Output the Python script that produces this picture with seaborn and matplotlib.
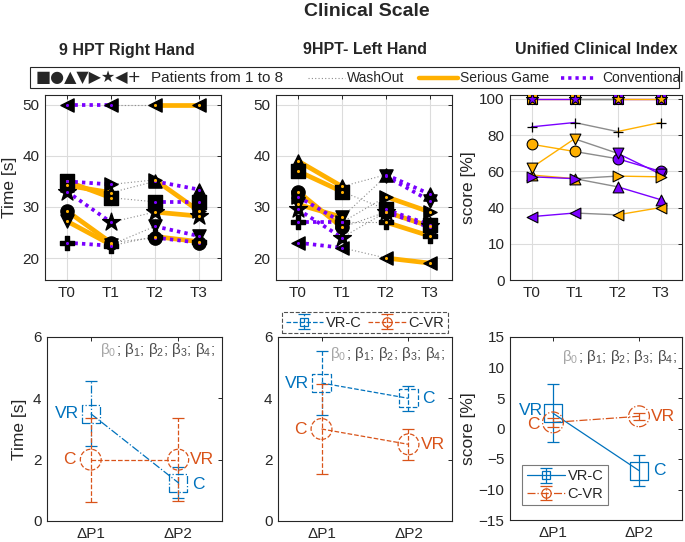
import matplotlib
matplotlib.use("Agg")
import matplotlib.pyplot as plt
import seaborn as sns
from matplotlib.patches import Rectangle
from matplotlib.lines import Line2D

sns.set_theme(style="white")
plt.rcParams['font.family'] = ['Liberation Sans', 'DejaVu Sans']
plt.rcParams['mathtext.fontset'] = 'custom'
plt.rcParams['mathtext.rm'] = 'Liberation Sans'
plt.rcParams['mathtext.it'] = 'Liberation Sans'

# ---------------- data ----------------
times = ['T0', 'T1', 'T2', 'T3']
patient_markers = ['s', 'o', '^', 'v', '>', '*', '<', 'P']
serious_game_first = [True, True, True, True, False, False, False, False]

# 9 HPT right hand (patients 1..8)
rh_t0 = [35.0, 29.2, 34.2, 27.2, 35.0, 33.0, 50.0, 23.0]
rh_t1 = [31.8, 23.0, 32.8, 22.6, 34.4, 27.0, 50.0, 22.4]
rh_t2 = [31.0, 24.0, 35.0, 26.2, 35.3, 29.0, 50.0, 24.2]
rh_t3 = [31.0, 23.0, 33.4, 24.3, 29.2, 28.2, 50.0, 23.2]

# 9 HPT left hand
lh_t0 = [37.0, 33.0, 39.0, 30.5, 32.0, 29.5, 23.0, 27.0]
lh_t1 = [33.0, 26.0, 34.0, 28.0, 27.0, 24.0, 22.0, 27.0]
lh_t2 = [29.5, 29.0, 36.3, 36.0, 32.0, 29.0, 20.0, 27.0]
lh_t3 = [26.5, 26.0, 32.5, 31.2, 29.0, 26.2, 19.0, 24.3]

# Unified clinical index
uci_t0 = [100, 75.0, 58.0, 62.0, 57.0, 100, 35.0, 84.6]
uci_t1 = [100, 71.0, 56.0, 78.0, 56.0, 100, 37.0, 87.0]
uci_t2 = [100, 67.0, 51.5, 70.0, 57.4, 100, 36.0, 82.0]
uci_t3 = [100, 60.0, 44.4, 58.5, 57.0, 100, 40.0, 87.0]
uci_ticks = [0, 20, 40, 60, 80, 100]
uci_ticklabels = ['0', '10', '40', '60', '80', '100']

# bottom row: group means and errors at dP1, dP2
delta_labels = ['\u0394P1', '\u0394P2']
rh_vrc = [3.5, 1.25]
rh_vrc_err = [1.05, 0.5]
rh_cvr = [2.0, 2.0]
rh_cvr_err = [1.37, 1.35]

lh_vrc = [4.5, 4.0]
lh_vrc_err = [1.03, 0.4]
lh_cvr = [3.0, 2.5]
lh_cvr_err = [1.48, 0.5]

uci_vrc = [2.5, -6.9]
uci_vrc_err = [4.75, 2.5]
uci_cvr = [1.0, 2.0]
uci_cvr_err = [0.7, 0.6]

SG = '#FFB000'
CONV = '#7A00FF'
WASH = '#8c8c8c'
BLUE = '#0072BD'
ORNG = '#D95319'

W, H = 685, 542
fig = plt.figure(figsize=(W / 100, H / 100), dpi=100)


def ax_px(x0, y0, x1, y1):
    return fig.add_axes([x0 / W, 1 - y1 / H, (x1 - x0) / W, (y1 - y0) / H])


def style_axes(ax, grid):
    for s in ax.spines.values():
        s.set_color('#262626')
        s.set_linewidth(0.8)
        s.set_visible(True)
    ax.tick_params(direction='in', top=True, right=True, length=3, width=0.7,
                   labelsize=11, colors='#262626', pad=4)
    if grid:
        ax.grid(True, color='#dcdcdc', lw=0.8)
        ax.set_axisbelow(True)


def draw_top(ax, vals, thin=False):
    xs = [0, 1, 2, 3]
    for i in range(8):
        y = [v[i] for v in vals]
        c1, c2 = (SG, CONV) if serious_game_first[i] else (CONV, SG)
        if thin:
            sns.lineplot(x=[1, 2], y=[y[1], y[2]], ax=ax, color=WASH, lw=1.0, legend=False, zorder=2)
            for (a, b), c in (((0, 1), c1), ((2, 3), c2)):
                sns.lineplot(x=[a, b], y=[y[a], y[b]], ax=ax, color=c, lw=1.0, legend=False, zorder=2)
        else:
            sns.lineplot(x=[1, 2], y=[y[1], y[2]], ax=ax, color=WASH, lw=0.8,
                         linestyle=(0, (1, 2)), legend=False, zorder=2)
            for (a, b), c in (((0, 1), c1), ((2, 3), c2)):
                if c == SG:
                    sns.lineplot(x=[a, b], y=[y[a], y[b]], ax=ax, color=SG, lw=3.4,
                                 legend=False, zorder=2)
                else:
                    sns.lineplot(x=[a, b], y=[y[a], y[b]], ax=ax, color=CONV, lw=2.7,
                                 linestyle=(0, (0.9, 1.1)), legend=False, zorder=2.1)
    for i in range(8):
        y = [v[i] for v in vals]
        m = patient_markers[i]
        c1, c2 = (SG, CONV) if serious_game_first[i] else (CONV, SG)
        cols = [c1, c1, c2, c2]
        if thin:
            if m == 'P':
                sns.scatterplot(x=xs, y=y, ax=ax, marker='+', s=45, color='black',
                                linewidth=0.9, legend=False, zorder=4)
            else:
                sz = 85 if m == '*' else 60
                for x, yy, c in zip(xs, y, cols):
                    ax.scatter([x], [yy], marker=m, s=sz, facecolor=c, edgecolor='black',
                               linewidth=0.8, zorder=4)
        else:
            sz = 180 if m == '*' else 90
            sns.scatterplot(x=xs, y=y, ax=ax, marker=m, s=sz, color='black',
                            edgecolor='black', linewidth=1.0, legend=False, zorder=4)
            for x, yy, c in zip(xs, y, cols):
                ax.scatter([x], [yy], marker='o', s=5, color=c, linewidth=0, zorder=5)
    ax.set_xlim(-0.5, 3.5)
    ax.set_xticks(xs)
    ax.set_xticklabels(times)
    ax.set_xlabel('')
    ax.set_ylabel('')


# ---------- top row ----------
ax1 = ax_px(45, 95, 221, 280)
draw_top(ax1, [rh_t0, rh_t1, rh_t2, rh_t3])
ax1.set_ylim(15.7, 51.9)
ax1.set_yticks([20, 30, 40, 50])
ax1.set_ylabel('Time [s]', fontsize=12.5, labelpad=4)
style_axes(ax1, True)

ax2 = ax_px(276, 95, 452, 280)
draw_top(ax2, [lh_t0, lh_t1, lh_t2, lh_t3])
ax2.set_ylim(15.7, 51.9)
ax2.set_yticks([20, 30, 40, 50])
style_axes(ax2, True)

ax3 = ax_px(510, 95, 682, 280)
draw_top(ax3, [uci_t0, uci_t1, uci_t2, uci_t3], thin=True)
ax3.set_ylim(0, 102.2)
ax3.set_yticks(uci_ticks)
ax3.set_yticklabels(uci_ticklabels)
ax3.set_ylabel('score [%]', fontsize=12.5, labelpad=2)
style_axes(ax3, True)


# ---------- bottom row ----------
def draw_bottom(ax, vrc, vrc_err, cvr, cvr_err, ls_v, ls_c):
    xs = [1, 2]
    ebs = []
    for y, e, c, ls, m, ms, lab in ((vrc, vrc_err, BLUE, ls_v, 's', 13, 'VR-C'),
                                     (cvr, cvr_err, ORNG, ls_c, 'o', 15, 'C-VR')):
        eb = ax.errorbar(xs, y, yerr=e, color=c, ls=ls, lw=0.9, marker=m, ms=ms,
                         mfc='none', mec=c, mew=0.9, capsize=4, capthick=0.9,
                         elinewidth=0.9, label=lab, zorder=3)
        eb[2][0].set_linestyle(ls)
        ebs.append((eb, y, c, ls, m, ms))
    ax.set_xlim(0.5, 2.5)
    ax.set_xticks(xs)
    ax.set_xticklabels(delta_labels)
    style_axes(ax, False)
    return ebs


def finish_markers(ax, ebs):
    for eb, y, c, ls, m, ms in ebs:
        eb[0].set_marker('None')
        sns.scatterplot(x=[1, 2], y=y, ax=ax, marker=m, s=(ms * 1.0) ** 2,
                        facecolor='none', edgecolor=c, linewidth=0.9,
                        linestyle=ls, legend=False, zorder=4)


def label(ax, x, y, txt, c, dx):
    ax.annotate(txt, xy=(x, y), xytext=(dx, 0), textcoords='offset pixels',
                ha='right' if dx < 0 else 'left', va='center', color=c, fontsize=12.5)


def betas(ax, x, y):
    t = ax.text(x, y, r'$\beta_0$', transform=ax.transAxes, color='#a6a6a6',
                fontsize=11, va='center', ha='left')
    ax.annotate(r'; $\beta_1$; $\beta_2$; $\beta_3$; $\beta_4$;', xy=(1, 0), xycoords=t,
                va='bottom', ha='left', color='#4d4d4d', fontsize=11)


b1 = ax_px(47, 337, 222, 521)
e1 = draw_bottom(b1, rh_vrc, rh_vrc_err, rh_cvr, rh_cvr_err, '-.', '--')
b1.set_ylim(0, 6)
b1.set_yticks([0, 2, 4, 6])
b1.set_ylabel('Time [s]', fontsize=12.5, labelpad=4)
finish_markers(b1, e1)
label(b1, 1, rh_vrc[0], 'VR', BLUE, -12)
label(b1, 2, rh_vrc[1] - 0.05, 'C', BLUE, 14)
label(b1, 1, rh_cvr[0], 'C', ORNG, -15)
label(b1, 2, rh_cvr[1], 'VR', ORNG, 12)
betas(b1, 0.30, 0.93)

b2 = ax_px(278, 337, 452, 521)
e2 = draw_bottom(b2, lh_vrc, lh_vrc_err, lh_cvr, lh_cvr_err, '--', '--')
b2.set_ylim(0, 6)
b2.set_yticks([0, 2, 4, 6])
leg2 = b2.legend(loc='lower center', bbox_to_anchor=(0.5, 1.02), ncol=2, fontsize=10.5,
                 frameon=True, fancybox=False, markerscale=0.45, handlelength=2.6,
                 handletextpad=0.2, columnspacing=0.4, borderpad=0.25, borderaxespad=0)
leg2.get_frame().set_edgecolor('#262626')
leg2.get_frame().set_linestyle('--')
leg2.get_frame().set_linewidth(0.8)
finish_markers(b2, e2)
label(b2, 1, lh_vrc[0], 'VR', BLUE, -12)
label(b2, 2, lh_vrc[1], 'C', BLUE, 14)
label(b2, 1, lh_cvr[0], 'C', ORNG, -15)
label(b2, 2, lh_cvr[1], 'VR', ORNG, 12)
betas(b2, 0.30, 0.91)

b3 = ax_px(510, 337, 682, 520)
e3 = draw_bottom(b3, uci_vrc, uci_vrc_err, uci_cvr, uci_cvr_err, '-', '-.')
b3.set_ylim(-15, 15)
b3.set_yticks([-15, -10, -5, 0, 5, 10, 15])
b3.set_ylabel('score [%]', fontsize=12.5, labelpad=2)
leg3 = b3.legend(loc='lower left', bbox_to_anchor=(0.03, 0.04), ncol=1, fontsize=10.5,
                 frameon=True, fancybox=False, markerscale=0.45, handlelength=2.6,
                 handletextpad=0.2, borderpad=0.3, labelspacing=0.25)
leg3.get_frame().set_edgecolor('#595959')
leg3.get_frame().set_linewidth(0.8)
finish_markers(b3, e3)
label(b3, 1, uci_vrc[0] + 0.4, 'VR', BLUE, -10)
label(b3, 2, uci_vrc[1], 'C', BLUE, 14)
label(b3, 1, uci_cvr[0] - 0.4, 'C', ORNG, -13)
label(b3, 2, uci_cvr[1], 'VR', ORNG, 12)
betas(b3, 0.30, 0.89)

# ---------- titles ----------
fig.text(367 / W, 1 - 12 / H, 'Clinical Scale', ha='center', va='center',
         fontsize=14, fontweight='bold')
for cx, t in ((127, '9 HPT Right Hand'), (365, '9HPT- Left Hand'), (596, 'Unified Clinical Index')):
    fig.text(cx / W, 1 - 50 / H, t, ha='center', va='center', fontsize=11.5, fontweight='bold')

# ---------- top legend box ----------
ly = 1 - 77.5 / H
narrow = ['Liberation Sans Narrow', 'Liberation Sans', 'DejaVu Sans']
fig.add_artist(Rectangle((30 / W, 1 - 88 / H), (679 - 30) / W, 21 / H, transform=fig.transFigure,
                         fill=False, edgecolor='#262626', lw=0.8))
fig.text(36 / W, ly, '\u25a0\u25cf\u25b2\u25bc\u25b6\u2605\u25c0+', ha='left', va='center',
         fontsize=11.5, family=['DejaVu Sans'])
fig.text(151 / W, ly, 'Patients from 1 to 8', ha='left', va='center', fontsize=11, family=narrow)
fig.add_artist(Line2D([308 / W, 345 / W], [ly, ly], transform=fig.transFigure, color=WASH,
                      lw=0.8, linestyle=(0, (1, 2))))
fig.text(347 / W, ly, 'WashOut', ha='left', va='center', fontsize=10, family=narrow)
fig.add_artist(Line2D([419 / W, 458 / W], [ly, ly], transform=fig.transFigure, color=SG, lw=3.2))
fig.text(460 / W, ly, 'Serious Game', ha='left', va='center', fontsize=10, family=narrow)
fig.add_artist(Line2D([561 / W, 597 / W], [ly, ly], transform=fig.transFigure, color=CONV,
                      lw=2.6, linestyle=(0, (0.9, 1.1))))
fig.text(602 / W, ly, 'Conventional', ha='left', va='center', fontsize=10, family=narrow)

fig.savefig('out.png', dpi=100)
